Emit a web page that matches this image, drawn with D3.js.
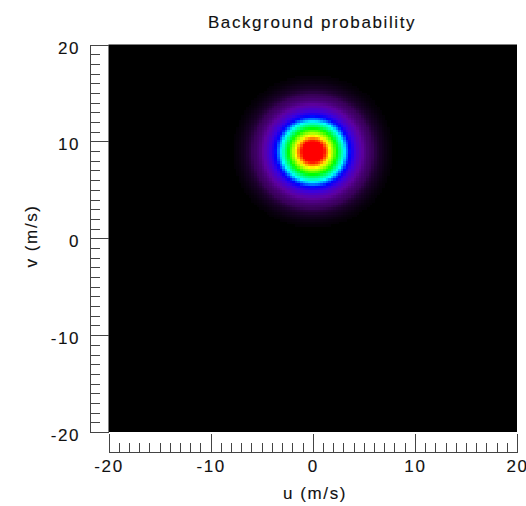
<!DOCTYPE html>
<html>
<head>
<meta charset="utf-8">
<script src="https://cdn.jsdelivr.net/npm/d3@7"></script>
<style>
  body { margin: 0; background: #fff; }
  svg { display: block; font-family: "Liberation Sans", Arial, sans-serif; }
</style>
</head>
<body>
<svg id="chart" width="526" height="506"></svg>
<script>
// chart content
const title = "Background probability";
const xLabel = "u (m/s)";
const yLabel = "v (m/s)";
const xDomain = [-20, 20];
const yDomain = [-20, 20];
const majorTicks = [-20, -10, 0, 10, 20];
const minorTicks = d3.range(-20, 21, 1);

// background wind distribution (m/s)
const meanU = 0;
const meanV = 9;
const spreadUV = 2.1;
const cellStep = 0.25;

// colour table: normalised probability -> colour
const colorStops = [0, 0.004, 0.02, 0.07, 0.15, 0.22, 0.34, 0.53, 0.73, 0.88, 1];
const colorValues = ["#000000", "#10001a", "#380058", "#5e00a0", "#3a00e0", "#0000ff",
                     "#00ffff", "#00ff00", "#ffff00", "#ff0000", "#ff0000"];

var svg = d3.select("#chart"),
    margin = {top: 44.5, right: 9, bottom: 74, left: 108.5},
    width = +svg.attr("width") - margin.left - margin.right,
    height = +svg.attr("height") - margin.top - margin.bottom;

var x = d3.scaleLinear().domain(xDomain).range([margin.left, margin.left + width]),
    y = d3.scaleLinear().domain(yDomain).range([margin.top + height, margin.top]),
    color = d3.scaleLinear().domain(colorStops).range(colorValues).clamp(true);

// grid cells of the probability field
var cells = [];
d3.range(xDomain[0], xDomain[1], cellStep).forEach(function(u) {
    d3.range(yDomain[0], yDomain[1], cellStep).forEach(function(v) {
        var du = u + cellStep / 2 - meanU, dv = v + cellStep / 2 - meanV;
        var p = Math.exp(-(du * du + dv * dv) / (2 * spreadUV * spreadUV));
        if (p > 0.001) cells.push({u: u, v: v, p: p});
    });
});

svg.append("rect")
    .attr("x", x(xDomain[0]))
    .attr("y", y(yDomain[1]))
    .attr("width", x(xDomain[1]) - x(xDomain[0]))
    .attr("height", y(yDomain[0]) - y(yDomain[1]))
    .attr("fill", "#000");

svg.append("g")
    .attr("shape-rendering", "crispEdges")
    .selectAll("rect")
    .data(cells)
    .enter().append("rect")
    .attr("x", function(d) { return x(d.u); })
    .attr("y", function(d) { return y(d.v + cellStep); })
    .attr("width", x(cellStep) - x(0) + 0.6)
    .attr("height", y(0) - y(cellStep) + 0.6)
    .attr("fill", function(d) { return color(d.p); });

var fmt = function(d) { return String(d); };

// left axis, detached from the image
var yAxisX = 90;
var gy = svg.append("g").attr("transform", "translate(" + yAxisX + ",0)");
gy.call(d3.axisLeft(y).tickValues(minorTicks).tickSizeInner(-10).tickSizeOuter(0).tickFormat(""));
gy.append("g").call(d3.axisLeft(y).tickValues(majorTicks).tickFormat(fmt)
    .tickSizeInner(-(margin.left - yAxisX)).tickSizeOuter(0).tickPadding(10));

// bottom axis, detached from the image
var xAxisY = 452;
var gx = svg.append("g").attr("transform", "translate(0," + xAxisY + ")");
gx.call(d3.axisBottom(x).tickValues(minorTicks).tickSizeInner(-9).tickSizeOuter(0).tickFormat(""));
gx.append("g").call(d3.axisBottom(x).tickValues(majorTicks).tickFormat(fmt)
    .tickSizeInner(-18).tickSizeOuter(0).tickPadding(8));

svg.selectAll(".tick line, .domain").attr("stroke", "#444").attr("shape-rendering", "crispEdges");

function label(sel) {
    sel.attr("fill", "#111")
        .attr("stroke", "#111")
        .attr("stroke-width", 0.12)
        .style("font-size", "17px")
        .style("letter-spacing", "1.6px");
}

svg.selectAll(".tick text").call(label);
gy.selectAll(".tick text").attr("dy", "0.5em");

svg.append("text")
    .attr("x", 312)
    .attr("y", 28)
    .attr("text-anchor", "middle")
    .call(label)
    .text(title);

svg.append("text")
    .attr("x", 315)
    .attr("y", 499)
    .attr("text-anchor", "middle")
    .call(label)
    .text(xLabel);

svg.append("text")
    .attr("transform", "translate(37,236) rotate(-90)")
    .attr("text-anchor", "middle")
    .call(label)
    .text(yLabel);
</script>
</body>
</html>
